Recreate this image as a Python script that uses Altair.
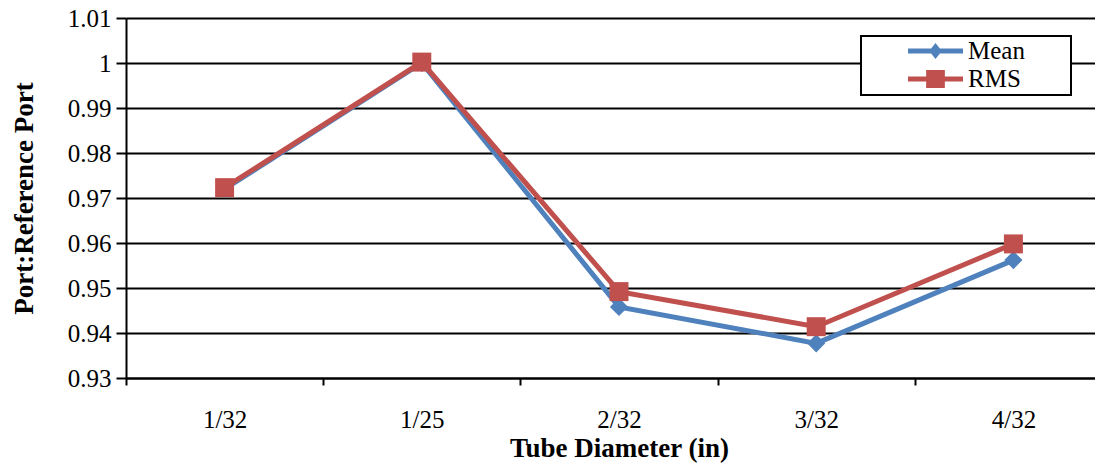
import altair as alt
import pandas as pd

# ---- data ----
categories = ["1/32", "1/25", "2/32", "3/32", "4/32"]
mean_values = [0.9720, 1.0000, 0.9458, 0.9377, 0.9562]
rms_values = [0.9723, 1.0002, 0.9492, 0.9414, 0.9598]
series_names = ["Mean", "RMS"]
series_colors = ["#4F81BD", "#C0504D"]
y_ticks = [0.93, 0.94, 0.95, 0.96, 0.97, 0.98, 0.99, 1.00, 1.01]

rows = []
for s, vals in zip(series_names, [mean_values, rms_values]):
    for c, v in zip(categories, vals):
        rows.append({"series": s, "cat": c, "value": v})
df = pd.DataFrame(rows)

FONT = "Liberation Serif"

# legend symbols: thick line with marker on top
mean_path = "M-1,-0.09L1,-0.09L1,0.09L-1,0.09Z M0,-0.29L0.23,0L0,0.29L-0.23,0Z"
rms_path = "M-1,-0.09L1,-0.09L1,0.09L-1,0.09Z M-0.34,-0.33L0.34,-0.33L0.34,0.33L-0.34,0.33Z"

x_enc = alt.X(
    "cat:N",
    sort=categories,
    bandPosition=0.5,
    scale=alt.Scale(type="band", domain=categories, paddingInner=0, paddingOuter=0),
    axis=alt.Axis(
        title="Tube Diameter (in)",
        tickBand="extent",
        labelAngle=0,
        grid=False,
        tickSize=7,
        labelPadding=22,
        titlePadding=3,
    ),
)
y_enc = alt.Y(
    "value:Q",
    scale=alt.Scale(domain=[0.93, 1.01], nice=False, zero=False),
    axis=alt.Axis(
        title="Port:Reference Port",
        values=y_ticks,
        format=".2~f",
        grid=True,
        gridColor="black",
        gridWidth=2,
        tickSize=10,
        labelPadding=5,
        titlePadding=29,
    ),
)

base = alt.Chart(df).encode(x=x_enc, y=y_enc)

layers = []
specs = [("Mean", series_colors[0], "diamond", 330), ("RMS", series_colors[1], "square", 360)]
for s, col, shp, sz in specs:
    sub = base.transform_filter(alt.datum.series == s)
    layers.append(sub.mark_line(color=col, strokeWidth=5))
    layers.append(sub.mark_point(shape=shp, filled=True, size=sz, color=col, opacity=1))

pad = "\u00a0" + "\u2800" * 2
legend_def = alt.Legend(
    title=None,
    orient="none",
    legendX=735,
    legendY=18,
    padding=3,
    strokeColor="black",
    fillColor="white",
    symbolOffset=44,
    labelOffset=5,
    clipHeight=24,
    rowPadding=3,
    labelFont=FONT,
    labelFontSize=25,
    labelColor="black",
    symbolSize=3025,
    symbolStrokeWidth=0,
    symbolOpacity=1,
    labelExpr="datum.label + '" + pad + "'",
)

legend_layer = base.mark_point(filled=True, opacity=0).encode(
    color=alt.Color("series:N", scale=alt.Scale(domain=series_names, range=series_colors), legend=legend_def),
    shape=alt.Shape("series:N", scale=alt.Scale(domain=series_names, range=[mean_path, rms_path]), legend=legend_def),
)

chart = (
    alt.layer(*layers, legend_layer)
    .properties(
        width=986,
        height=360,
        autosize=alt.AutoSizeParams(type="none"),
        padding={"left": 118, "top": 10, "right": -17, "bottom": 86},
        background="white",
    )
    .configure_view(stroke=None)
    .configure_axis(
        domainColor="black",
        domainWidth=2,
        tickColor="black",
        tickWidth=2,
        labelFont=FONT,
        labelFontSize=25,
        labelColor="black",
        titleFont=FONT,
        titleFontSize=27,
        titleFontWeight="bold",
        titleColor="black",
    )
    .configure_legend(strokeWidth=2)
)

chart.save("out.html", embed_options={"renderer": "svg", "actions": False})
